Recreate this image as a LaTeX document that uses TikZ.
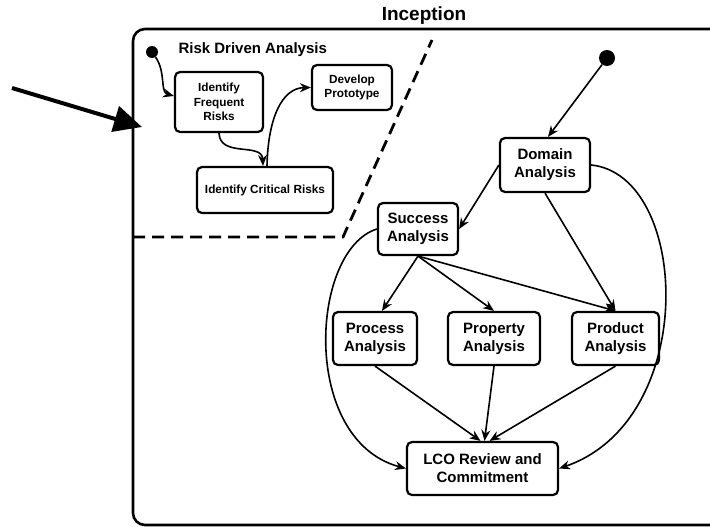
\documentclass[tikz,border=0pt]{standalone}
\usepackage{fontspec}
\setmainfont{Liberation Sans}
\usetikzlibrary{arrows.meta}

\begin{document}
\begin{tikzpicture}[x=1pt,y=-1pt]
\tikzset{actbox/.style={draw,line width=2.2pt,rounded corners=5pt,align=center,inner sep=0pt,font=\bfseries\fontsize{15}{18}\selectfont}}
\tikzset{smallbox/.style={actbox,font=\bfseries\fontsize{11.8}{14.5}\selectfont}}
\tikzset{trans/.style={-{Stealth[length=11pt,width=9pt]},line width=1.6pt}}
\tikzset{initdot/.style={circle,fill,inner sep=0pt}}
\useasboundingbox (0,0) rectangle (710,527);
% frame of the phase
\draw[line width=2.6pt,rounded corners=12pt] (715,29) -| (133,525) -- (715,525);
\node (title) [anchor=base,font=\bfseries\fontsize{19}{22}\selectfont] at (424,21) {Inception};
% risk driven region
\coordinate (dleft) at (133,237);
\coordinate (dknee) at (343,237);
\coordinate (dtop) at (432,40);
\draw[line width=2.8pt,dash pattern=on 12pt off 7pt] (dleft) -- (dknee) -- (dtop);
\node (rlabel) [anchor=west,font=\bfseries\fontsize{15}{18}\selectfont] at (175,50) {Risk Driven Analysis};
\node (rinit) [initdot,minimum size=12pt] at (152,52) {};
\node (freq) [smallbox,minimum width=88pt,minimum height=60pt] at (219,102) {Identify\\Frequent\\Risks};
\node (dev) [smallbox,minimum width=80pt,minimum height=45pt] at (352,87.5) {Develop\\Prototype};
\node (crit) [smallbox,minimum width=136pt,minimum height=46pt] at (265,190) {Identify Critical Risks};
\draw[trans] (rinit) .. controls (166,72) and (160,92) .. ([yshift=6pt]freq.west);
\draw[trans] (freq.south) .. controls (220,158) and (262,142) .. ([xshift=-2pt]crit.north);
\draw[trans] ([xshift=2pt]crit.north) .. controls (268,118) and (282,88) .. (dev.west);
% main flow
\node (dinit) [initdot,minimum size=16pt] at (607,58) {};
\node (domain) [actbox,minimum width=90pt,minimum height=54pt] at (545,165) {Domain\\Analysis};
\node (success) [actbox,minimum width=80pt,minimum height=52pt] at (418,229) {Success\\Analysis};
\node (process) [actbox,minimum width=84pt,minimum height=53pt] at (375,338.5) {Process\\Analysis};
\node (property) [actbox,minimum width=92pt,minimum height=53pt] at (494,338.5) {Property\\Analysis};
\node (product) [actbox,minimum width=87pt,minimum height=53pt] at (615.5,338.5) {Product\\Analysis};
\node (lco) [actbox,minimum width=151pt,minimum height=53pt] at (482.5,468.5) {LCO Review and\\Commitment};
\draw[trans] (dinit) -- ([xshift=3pt]domain.north);
\draw[trans] (domain.west) -- (success.east);
\draw[trans] (domain.south) -- (product.north);
\draw[trans] (success.south) -- ([xshift=7pt]process.north);
\draw[trans] (success.south) -- (property.north);
\draw[trans] (success.south) -- (product.north);
\draw[trans] (process.south) -- ([xshift=-2pt]lco.north);
\draw[trans] (property.south) -- ([xshift=2pt]lco.north);
\draw[trans] (product.south) -- ([xshift=7pt]lco.north);
\draw[trans] (success.west) .. controls (310,250) and (300,440) .. (lco.west);
\draw[trans] (domain.east) .. controls (690,175) and (700,420) .. (lco.east);
% pointer
\coordinate (ptail) at (12,88);
\coordinate (ptip) at (142,127);
\draw[line width=4pt,-{Triangle[length=28pt,width=26pt]}] (ptail) -- (ptip);
\end{tikzpicture}
\end{document}
